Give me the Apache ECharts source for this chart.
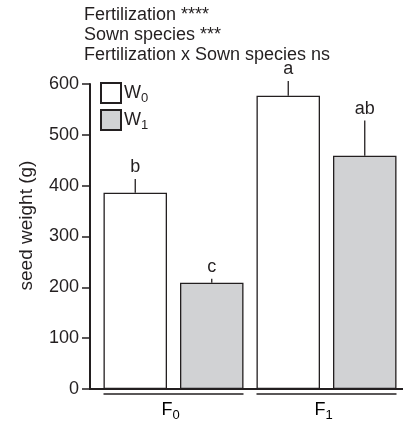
<!DOCTYPE html>
<html>
<head>
<meta charset="utf-8">
<script src="https://cdn.jsdelivr.net/npm/echarts@6/dist/echarts.min.js"></script>
<style>
  html, body { margin: 0; padding: 0; background: #fff; }
  #main { width: 403px; height: 422px; }
</style>
</head>
<body>
<div id="main"></div>
<script>
// fertilization groups and sown species (W0 / W1)
var groups = ['F0', 'F1'];
var sown = ['W0', 'W1'];
// mean seed weight per group, one array per sown species
var w0Values = [386, 577];
var w1Values = [209, 459];
// upper error bar (added to mean)
var w0Err = [27, 29];
var w1Err = [8, 69];
// significance letters
var w0Letters = ['b', 'a'];
var w1Letters = ['c', 'ab'];
var yTicks = [0, 100, 200, 300, 400, 500, 600];
var statLines = ['Fertilization ****', 'Sown species ***', 'Fertilization x Sown species ns'];

var FONT = '"Liberation Sans", Arial, Helvetica, sans-serif';
var INK = '#231f20';
var GREY = '#d1d2d4';

// subscript helper: 'F0' -> {n|F}{s|0}
function sub(label) {
  return '{n|' + label.slice(0, -1) + '}{s|' + label.slice(-1) + '}';
}
var subRich = {
  n: { fontSize: 18, fontFamily: FONT, color: INK },
  s: { fontSize: 13, fontFamily: FONT, color: INK, padding: [11, 0, 0, 0] }
};

// four bar slots: F0W0, F0W1, F1W0, F1W1
var slots = [];
var means = [];
var errs = [];
var letters = [];
for (var g = 0; g < groups.length; g++) {
  slots.push(groups[g] + sown[0], groups[g] + sown[1]);
  means.push(w0Values[g], w1Values[g]);
  errs.push(w0Err[g], w1Err[g]);
  letters.push(w0Letters[g], w1Letters[g]);
}
var w0Data = slots.map(function (s, i) { return i % 2 === 0 ? means[i] : '-'; });
var w1Data = slots.map(function (s, i) { return i % 2 === 1 ? means[i] : '-'; });
var errData = slots.map(function (s, i) { return [i, means[i], means[i] + errs[i]]; });
var groupData = groups.map(function (s, i) { return [i, 0]; });

var BAR_FRAC = 0.83;

var myChart = echarts.init(document.getElementById('main'));
var option = {
  animation: false,
  textStyle: { fontFamily: FONT, color: INK },
  title: {
    text: statLines.join('\n'),
    left: 84,
    top: 5,
    padding: 0,
    textStyle: { fontFamily: FONT, fontSize: 18, fontWeight: 'normal', color: INK, lineHeight: 20 }
  },
  legend: {
    data: sown,
    orient: 'vertical',
    left: 100,
    top: 82,
    padding: 0,
    itemWidth: 20,
    itemHeight: 20,
    itemGap: 4,
    icon: 'rect',
    itemStyle: { borderWidth: 2, borderColor: INK },
    formatter: function (name) { return sub(name); },
    textStyle: { rich: subRich, padding: [0, 0, 0, -2] }
  },
  grid: { left: 97, right: -1, top: 84, bottom: 33 },
  xAxis: {
    type: 'category',
    data: slots,
    axisLine: { lineStyle: { color: INK, width: 2 } },
    axisTick: { show: false },
    axisLabel: { show: false }
  },
  yAxis: {
    type: 'value',
    min: 0,
    max: 600,
    interval: 100,
    offset: 7,
    name: 'seed weight (g)',
    nameLocation: 'middle',
    nameGap: 54,
    nameTextStyle: { fontFamily: FONT, fontSize: 19, color: INK, padding: [0, 0, 0, 22] },
    axisLine: { show: true, lineStyle: { color: INK, width: 2 } },
    axisTick: { show: true, length: 8, lineStyle: { color: INK, width: 1.5 } },
    axisLabel: {
      fontFamily: FONT, fontSize: 18, color: INK, margin: 11,
      formatter: function (v) { return yTicks.indexOf(v) >= 0 ? String(v) : ''; }
    },
    splitLine: { show: false }
  },
  series: [
    {
      name: sown[0],
      type: 'bar',
      data: w0Data,
      barWidth: (BAR_FRAC * 100) + '%',
      barGap: '-100%',
      itemStyle: { color: '#ffffff', borderColor: INK, borderWidth: 1.3 }
    },
    {
      name: sown[1],
      type: 'bar',
      data: w1Data,
      barWidth: (BAR_FRAC * 100) + '%',
      barGap: '-100%',
      itemStyle: { color: GREY, borderColor: INK, borderWidth: 1.3 }
    },
    {
      // error bars + letters
      type: 'custom',
      data: errData,
      clip: false,
      z: 5,
      renderItem: function (params, api) {
        var x = api.value(0);
        var lo = api.coord([x, api.value(1)]);
        var hi = api.coord([x, api.value(2)]);
        return {
          type: 'group',
          children: [
            { type: 'line', shape: { x1: lo[0], y1: lo[1], x2: hi[0], y2: hi[1] },
              style: { stroke: INK, lineWidth: 1.3 } },
            { type: 'text', x: hi[0], y: hi[1] - 3,
              style: { text: letters[params.dataIndex], align: 'center', verticalAlign: 'bottom',
                       font: '18px ' + FONT, fill: INK } }
          ]
        };
      }
    },
    {
      // group underline + F labels, plus the short axis piece left of the grid
      type: 'custom',
      data: groupData,
      clip: false,
      z: 5,
      renderItem: function (params, api) {
        var i = api.value(0);
        var band = api.size([1, 0])[0];
        var inset = band * (1 - BAR_FRAC) / 2;
        var a = api.coord([2 * i, 0]);
        var b = api.coord([2 * i + 1, 0]);
        var x1 = a[0] - band / 2 + inset;
        var x2 = b[0] + band / 2 - inset;
        var children = [
          { type: 'line', shape: { x1: x1, y1: a[1] + 5, x2: x2, y2: a[1] + 5 },
            style: { stroke: INK, lineWidth: 1.6 } },
          { type: 'text', x: (x1 + x2) / 2 - 3, y: a[1] + 9,
            style: { text: sub(groups[i]), rich: subRich, align: 'center', verticalAlign: 'top' } }
        ];
        if (i === 0) {
          var left = params.coordSys.x;
          children.push({ type: 'line', shape: { x1: left - 8, y1: a[1], x2: left, y2: a[1] },
            style: { stroke: INK, lineWidth: 2 } });
        }
        return { type: 'group', children: children };
      }
    }
  ]
};
myChart.setOption(option);
</script>
</body>
</html>
